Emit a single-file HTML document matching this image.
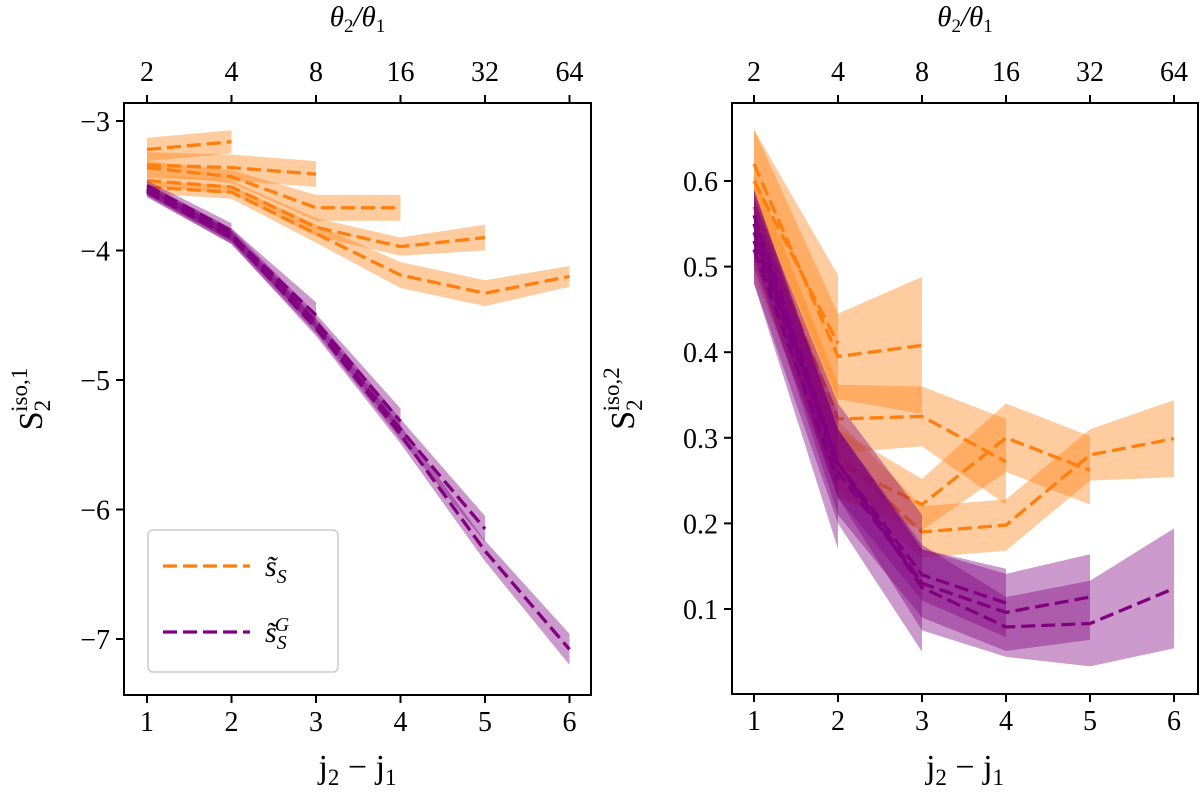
<!DOCTYPE html>
<html><head><meta charset="utf-8"><style>
body{margin:0;background:#fff}
svg{display:block;font-family:"Liberation Serif","DejaVu Serif",serif}
</style></head><body>
<svg id="c" width="1200" height="794"></svg>
<script>
const xCats=[1,2,3,4,5,6];
const topTicks=["2","4","8","16","32","64"];
const leftYTicks=[-3,-4,-5,-6,-7];
const rightYTicks=[0.6,0.5,0.4,0.3,0.2,0.1];
// left panel series (value, error)
const leftOrange=[
 [[-3.22,-3.16],[0.09,0.09]],
 [[-3.34,-3.36,-3.41],[0.1,0.1,0.1]],
 [[-3.36,-3.43,-3.67,-3.67],[0.05,0.05,0.1,0.1]],
 [[-3.46,-3.51,-3.82,-3.97,-3.90],[0.05,0.05,0.07,0.07,0.1]],
 [[-3.51,-3.55,-3.87,-4.19,-4.33,-4.20],[0.05,0.05,0.07,0.1,0.1,0.08]]
];
const leftPurple=[
 [[-3.50,-3.85],[0.04,0.06]],
 [[-3.52,-3.88,-4.50],[0.04,0.05,0.1]],
 [[-3.53,-3.88,-4.55,-5.32],[0.04,0.05,0.06,0.1]],
 [[-3.54,-3.90,-4.58,-5.38,-6.15],[0.04,0.05,0.06,0.08,0.1]],
 [[-3.55,-3.90,-4.60,-5.42,-6.32,-7.08],[0.04,0.05,0.06,0.07,0.08,0.12]]
];
const rightOrange=[
 [[0.60,0.41],[0.06,0.08]],
 [[0.62,0.395,0.408],[0.04,0.05,0.08]],
 [[0.57,0.322,0.325,0.272],[0.04,0.04,0.035,0.05]],
 [[0.55,0.27,0.222,0.30,0.262],[0.04,0.04,0.03,0.04,0.04]],
 [[0.53,0.28,0.19,0.198,0.28,0.299],[0.04,0.04,0.03,0.03,0.03,0.045]]
];
const rightPurple=[
 [[0.52,0.25],[0.04,0.08]],
 [[0.53,0.27,0.13],[0.05,0.07,0.08]],
 [[0.54,0.27,0.14,0.107],[0.04,0.04,0.03,0.04]],
 [[0.55,0.26,0.13,0.096,0.114],[0.04,0.05,0.04,0.045,0.05]],
 [[0.56,0.27,0.125,0.079,0.083,0.124],[0.03,0.04,0.05,0.035,0.05,0.07]]
];
const NS="http://www.w3.org/2000/svg";
const svg=document.getElementById('c');
function mk(t,a,p){const e=document.createElementNS(NS,t);for(const k in a)e.setAttribute(k,a[k]);(p||svg).appendChild(e);return e;}
function panel(P){
 const g=mk('g',{});
 
 
 const X=v=>P.x0+(v-1)*P.dx;
 const Y=v=>P.y0+(P.v0-v)*P.dy;
 function draw(series,fill,stroke,nm){
  series.forEach((s,i)=>{
   const [v,e]=s;
   let up=v.map((d,j)=>X(xCats[j])+','+Y(d+e[j]));
   let lo=v.map((d,j)=>X(xCats[j])+','+Y(d-e[j])).reverse();
   const b=mk('polygon',{points:up.concat(lo).join(' '),fill:fill,stroke:'none'},g);
   
   
  });
  series.forEach((s,i)=>{
   const [v]=s;
   const l=mk('polyline',{points:v.map((d,j)=>X(xCats[j])+','+Y(d)).join(' '),fill:'none',stroke:stroke,'stroke-width':3.3,'stroke-dasharray':'14,6'},g);
   
   
  });
 }
 draw(P.orange,'rgba(255,127,14,0.4)','#ff7f0e','orange');
 draw(P.purple,'rgba(128,0,128,0.4)','#800080','purple');
 const f=mk('rect',{x:P.L,y:P.T,width:P.R-P.L,height:P.B-P.T,fill:'none',stroke:'#000','stroke-width':2},g);
 
 xCats.forEach((c,i)=>{
  const x=X(c);
  mk('line',{x1:x,x2:x,y1:P.B,y2:P.B+8,stroke:'#000','stroke-width':2},g);
  mk('line',{x1:x,x2:x,y1:P.T,y2:P.T-8,stroke:'#000','stroke-width':2},g);
  const t=mk('text',{x:x,y:P.B+36,'text-anchor':'middle','font-size':28},g);t.textContent=c;
  
  const tt=mk('text',{x:x,y:P.T-22,'text-anchor':'middle','font-size':28},g);tt.textContent=topTicks[i];
  
 });
 P.yt.forEach(v=>{
  const y=Y(v);
  mk('line',{x1:P.L,x2:P.L-8,y1:y,y2:y,stroke:'#000','stroke-width':2},g);
  const t=mk('text',{x:P.L-14,y:y+10,'text-anchor':'end','font-size':28},g);
  t.textContent=(v<0?'\u2212'+Math.abs(v):v.toFixed(1));
  
 });
 const cx=(P.L+P.R)/2;
 const xl=mk('text',{x:cx,y:778,'text-anchor':'middle','font-size':34},g);
 xl.innerHTML='j<tspan font-size="23" dy="7">2</tspan><tspan dy="-7"> \u2212 j</tspan><tspan font-size="23" dy="7">1</tspan>';
 
 const tl=mk('text',{x:cx,y:26,'text-anchor':'middle','font-size':29,'font-style':'italic'},g);
 tl.innerHTML='\u03b8<tspan font-size="19" dy="6" font-style="normal">2</tspan><tspan dy="-6">/\u03b8</tspan><tspan font-size="19" dy="6" font-style="normal">1</tspan>';
 
 const yl=mk('text',{transform:`translate(${P.ylx},${(P.T+P.B)/2}) rotate(-90)`,'text-anchor':'middle','font-size':34},g);
 yl.innerHTML='S<tspan font-size="23" dy="8">2</tspan><tspan font-size="23" dy="-23" dx="-12">iso,'+P.k+'</tspan>';
 
 return g;
}
panel({name:'left-panel',L:124,R:591,T:103,B:695,x0:147,dx:84.5,y0:121,v0:-3,dy:129.5,yt:leftYTicks,orange:leftOrange,purple:leftPurple,ylx:42,k:1});
panel({name:'right-panel',L:732,R:1198,T:103,B:694,x0:754,dx:84,y0:181,v0:0.6,dy:856,yt:rightYTicks,orange:rightOrange,purple:rightPurple,ylx:634,k:2});
// legend
const lg=mk('g',{});


mk('rect',{x:148,y:530,width:190,height:142,rx:5,fill:'#fff',stroke:'#ccc','stroke-width':1.5},lg);
mk('line',{x1:163,x2:250,y1:566,y2:566,stroke:'#ff7f0e','stroke-width':3.3,'stroke-dasharray':'14,6'},lg);
mk('line',{x1:163,x2:250,y1:632,y2:632,stroke:'#800080','stroke-width':3.3,'stroke-dasharray':'14,6'},lg);
const e1=mk('text',{x:265,y:576,'font-size':30,'font-style':'italic'},lg);
e1.innerHTML='s\u0303<tspan font-size="20" dy="7">S</tspan>';

const e2=mk('text',{x:265,y:642,'font-size':30,'font-style':'italic'},lg);
e2.innerHTML='s\u0303<tspan font-size="20" dy="7">S</tspan><tspan font-size="20" dy="-18" dx="-12">G</tspan>';

</script>
</body></html>
